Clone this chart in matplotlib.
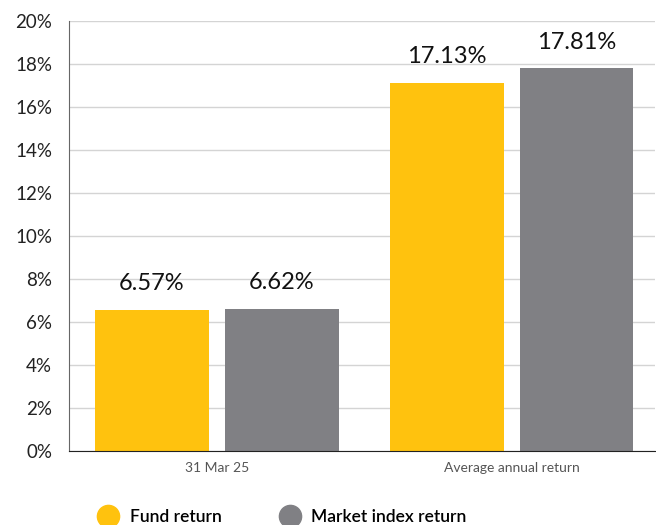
import numpy as np
import matplotlib.pyplot as plt
from matplotlib.lines import Line2D

plt.rcParams['font.family'] = ['Lato', 'DejaVu Sans']

categories = ['31 Mar 25', 'Average annual return']
fund = [6.57, 17.13]
market = [6.62, 17.81]
series_names = ['Fund return', 'Market index return']
yticks = [0, 2, 4, 6, 8, 10, 12, 14, 16, 18, 20]

yellow = '#FFC20E'
grey = '#808084'

fig = plt.figure(figsize=(6.56, 5.25), dpi=100)
ax = fig.add_axes([0.105, 0.141, 0.893, 0.819])

x = np.arange(len(categories))
w = 0.386
off = 0.22
b1 = ax.bar(x - off, fund, w, color=yellow, zorder=3)
b2 = ax.bar(x + off, market, w, color=grey, zorder=3)

for bars, vals in [(b1, fund), (b2, market)]:
    for r, v in zip(bars, vals):
        ax.annotate(f'{v:.2f}%', (r.get_x() + r.get_width() / 2, v),
                    xytext=(0, 11), textcoords='offset points',
                    ha='center', va='bottom', fontsize=17, color='#111111')

ax.set_ylim(0, 20)
ax.set_xlim(-0.502, 1.485)
ax.set_yticks(yticks)
ax.set_yticklabels([f'{t}%' for t in yticks], fontsize=13.5, color='#222222')
ax.set_xticks(x)
ax.set_xticklabels(categories, fontsize=10, color='#555555')
ax.tick_params(axis='y', length=0, pad=12)
ax.tick_params(axis='x', length=0, pad=8)
ax.grid(axis='y', color='#d4d4d4', linewidth=1, zorder=0)
for s in ['top', 'right']:
    ax.spines[s].set_visible(False)
ax.spines['left'].set_color('#666666')
ax.spines['bottom'].set_color('#222222')
ax.spines['bottom'].set_zorder(4)

handles = [Line2D([], [], marker='o', linestyle='none', markersize=16,
                  markerfacecolor=c, markeredgecolor=c) for c in [yellow, grey]]
fig.legend(handles, series_names, loc='lower left', bbox_to_anchor=(0.115, -0.03),
           ncol=2, frameon=False, columnspacing=2.9, handletextpad=0.25,
           prop={'weight': 'semibold', 'size': 12.5})

fig.savefig('out.png', dpi=100)
